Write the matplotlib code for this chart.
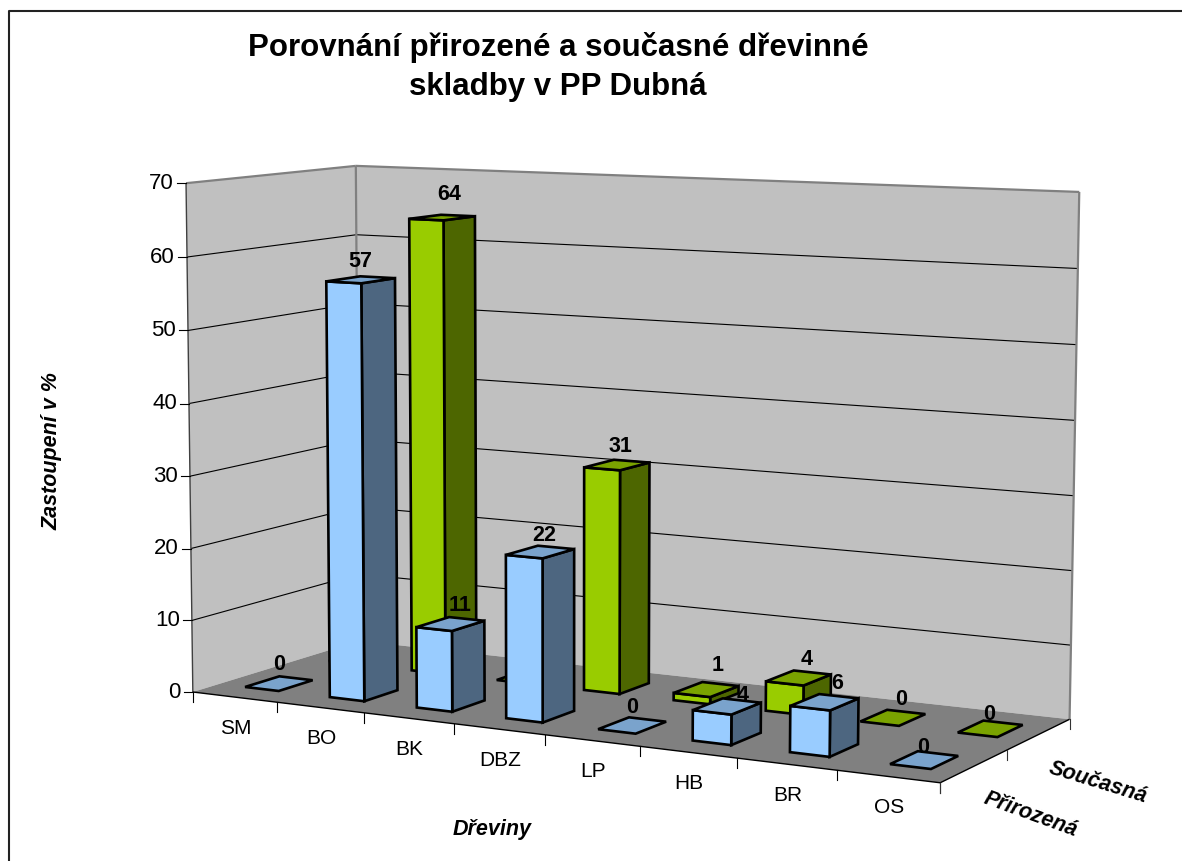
#!/usr/bin/env python3
import numpy as np
import matplotlib
matplotlib.use('Agg')
import matplotlib.pyplot as plt
from matplotlib.patches import Polygon

plt.rcParams['font.family'] = ['Liberation Sans', 'DejaVu Sans']

title = 'Porovnání přirozené a současné dřevinné\nskladby v PP Dubná'
categories = ['SM', 'BO', 'BK', 'DBZ', 'LP', 'HB', 'BR', 'OS']
series_names = ['Přirozená', 'Současná']
prirozena = [0, 57, 11, 22, 0, 4, 6, 0]
soucasna = [0, 64, 0, 31, 1, 4, 0, 0]
yticks = [0, 10, 20, 30, 40, 50, 60, 70]

ZMAX = 70.0
NX = len(categories)
NY = len(series_names)
BAR_W = 0.4
BAR_D = 0.4
BAR_SHIFT = 0.01

# label nudges in pixels, the original places them a bit unevenly
blue_nudge = [(0, 1), (0, 2), (10, 2), (4, 4), (0, 2), (16, 9), (13, 1), (-1, 7)]
green_nudge = [(0, 0), (7, -3), (0, 0), (4, 2), (11, -4), (8, 2), (8, 2), (-1, 6)]

# chart corners in the picture, used to fit the camera
world = [(0, 0, 0), (NX, 0, 0), (NX, NY, 0), (0, NY, 0),
         (0, 0, ZMAX), (0, NY, ZMAX), (NX, NY, ZMAX)]
pixels = [(194, 692), (940, 783), (1070, 719), (358, 641),
          (185, 183), (357, 166), (1079, 192)]


def fit_camera(world, pixels):
    rows = []
    rhs = []
    for (x, y, z), (u, v) in zip(world, pixels):
        rows.append([x, y, z, 1, 0, 0, 0, 0, -u*x, -u*y, -u*z])
        rhs.append(u)
        rows.append([0, 0, 0, 0, x, y, z, 1, -v*x, -v*y, -v*z])
        rhs.append(v)
    sol = np.linalg.lstsq(np.array(rows, float), np.array(rhs, float), rcond=None)[0]
    return np.append(sol, 1.0).reshape(3, 4)


cam = fit_camera(world, pixels)


def proj(x, y, z):
    p = cam @ np.array([x, y, z, 1.0])
    return p[0]/p[2], p[1]/p[2]


def face(ax, pts, fc, ec='black', lw=1.9, z=1):
    ax.add_patch(Polygon([proj(*p) for p in pts], closed=True, facecolor=fc,
                         edgecolor=ec, linewidth=lw, joinstyle='miter', zorder=z))


def line3(ax, a, b, color='black', lw=0.8, z=1):
    pa, pb = proj(*a), proj(*b)
    ax.plot([pa[0], pb[0]], [pa[1], pb[1]], color=color, lw=lw, zorder=z,
            solid_capstyle='butt')


def bar(ax, i, j, h, colors, nudge, z):
    xc = i + 0.5 + BAR_SHIFT
    x0 = xc - BAR_W/2
    x1 = xc + BAR_W/2
    y0 = j + 0.5 - BAR_D/2
    y1 = j + 0.5 + BAR_D/2
    front, side, top = colors
    if h > 0:
        face(ax, [(x1, y0, 0), (x1, y1, 0), (x1, y1, h), (x1, y0, h)], side, z=z)
        face(ax, [(x0, y0, 0), (x1, y0, 0), (x1, y0, h), (x0, y0, h)], front, z=z)
    face(ax, [(x0, y0, h), (x1, y0, h), (x1, y1, h), (x0, y1, h)], top, z=z)
    cx, cy = proj(xc, j + 0.5, h)
    ax.text(cx + nudge[0], cy - 20 + nudge[1], str(h), ha='center', va='center', fontsize=15.5,
            fontweight='bold', color='black', zorder=z)


fig = plt.figure(figsize=(11.82, 8.61), dpi=100)
ax = fig.add_axes([0, 0, 1, 1])
ax.set_xlim(0, 1182)
ax.set_ylim(861, 0)
ax.axis('off')

# outer frame
ax.plot([8.5, 8.5, 1182], [861, 11, 11], color='#222222', lw=1.5, zorder=0)

ax.text(558, 67, title, ha='center', va='center', fontsize=22.5, fontweight='bold',
        linespacing=1.43)

# walls and floor
face(ax, [(0, 0, 0), (0, NY, 0), (0, NY, ZMAX), (0, 0, ZMAX)], '#C0C0C0', ec='none', lw=0)
face(ax, [(0, NY, 0), (NX, NY, 0), (NX, NY, ZMAX), (0, NY, ZMAX)], '#C0C0C0', ec='none', lw=0)
face(ax, [(0, 0, 0), (NX, 0, 0), (NX, NY, 0), (0, NY, 0)], '#808080', ec='none', lw=0)

for v in yticks[1:-1]:
    line3(ax, (0, 0, v), (0, NY, v))
    line3(ax, (0, NY, v), (NX, NY, v))
line3(ax, (0, 0, ZMAX), (0, NY, ZMAX), color='#808080', lw=1.6)
line3(ax, (0, NY, ZMAX), (NX, NY, ZMAX), color='#808080', lw=1.6)
line3(ax, (0, NY, 0), (0, NY, ZMAX), color='#808080', lw=1.6)
line3(ax, (NX, NY, 0), (NX, NY, ZMAX), color='#808080', lw=1.6)

# axes and ticks
line3(ax, (0, 0, 0), (0, 0, ZMAX), color='#404040', lw=1.0, z=2)
line3(ax, (0, 0, 0), (NX, 0, 0), lw=1.0, z=2)
line3(ax, (NX, 0, 0), (NX, NY, 0), lw=1.0, z=2)
for v in yticks:
    px, py = proj(0, 0, v)
    ax.plot([px - 9, px], [py, py], color='black', lw=0.8, zorder=2)
    ax.text(px - 12, py, str(v), ha='right', va='center', fontsize=16)
for i in range(NX + 1):
    px, py = proj(i, 0, 0)
    ax.plot([px, px], [py, py + 10], color='black', lw=0.8, zorder=2)
for j in range(NY + 1):
    px, py = proj(NX, j, 0)
    ax.plot([px, px], [py, py + 10], color='#333333', lw=0.8, zorder=2)

for i, name in enumerate(categories):
    px, py = proj(i + 0.5, 0, 0)
    ax.text(px + 1, py + 31, name, ha='center', va='center', fontsize=15)

ax.text(492, 830, 'Dřeviny', ha='center', va='center', fontsize=15.5,
        fontweight='bold', fontstyle='italic')
ax.text(52, 451, 'Zastoupení v %', ha='center', va='center', rotation=90, fontsize=15.5,
        fontweight='bold', fontstyle='italic')
ax.text(1098, 783, series_names[1], ha='center', va='center', rotation=-17, fontsize=15.5,
        fontweight='bold', fontstyle='italic', rotation_mode='anchor')
ax.text(1031, 815, series_names[0], ha='center', va='center', rotation=-20, fontsize=15.5,
        fontweight='bold', fontstyle='italic', rotation_mode='anchor')

# rear row first so the front row hides it
green = ('#99CC00', '#4D6600', '#7AA300')
blue = ('#99CCFF', '#4D6680', '#7AA3CC')
for i, h in enumerate(soucasna):
    bar(ax, i, 1, h, green, green_nudge[i], 3 + i * 0.01)
for i, h in enumerate(prirozena):
    bar(ax, i, 0, h, blue, blue_nudge[i], 4 + i * 0.01)

fig.savefig('out.png', dpi=100)
